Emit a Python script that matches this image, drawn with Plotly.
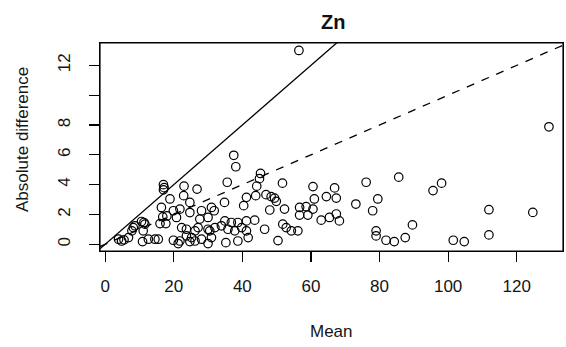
import plotly.graph_objects as go

title = "Zn"
x_label = "Mean"
y_label = "Absolute difference"

mean_vals = [
    3.9, 4.8, 6.8, 5.5, 8.2, 7.8, 8.7, 10.6, 11.3, 11.1, 10.9, 11.6, 14.5, 15.5, 12.6,
    16.0, 17.7, 16.8, 16.4, 18.0, 17.0, 17.2, 17.0, 18.9, 19.9, 21.8, 20.8, 19.9, 21.8, 24.7, 21.3,
    37.5, 38.1, 35.6, 26.8, 23.0, 22.9, 24.7, 34.8, 41.2, 44.2, 43.9, 40.4,
    24.7, 28.1, 31.0, 31.8, 30.0, 27.6, 34.9, 36.8, 38.7, 41.2, 43.6,
    22.3, 23.7, 26.2, 27.1, 30.0, 30.5, 32.0, 33.9, 35.8, 37.8, 39.8, 41.2, 41.7,
    23.7, 25.2, 26.2, 28.1, 31.0, 30.0, 35.2, 38.7,
    45.3, 45.0, 51.7, 60.6, 66.9, 64.5, 67.4, 61.0, 46.9, 48.4, 49.4, 49.9,
    48.0, 52.3, 56.7, 58.6, 60.6, 56.7, 59.1, 63.0, 65.4, 67.4, 68.3,
    46.5, 51.8, 52.8, 54.3, 56.2, 50.4,
    56.5, 76.1, 79.5, 73.1, 78.0, 85.6, 79.0, 79.0, 81.9, 84.3,
    129.4, 95.6, 98.1, 111.9, 124.7, 89.6, 87.5, 101.5, 104.7, 111.9,
]
abs_diff = [
    0.34, 0.22, 0.45, 0.30, 1.12, 0.90, 1.24, 1.53, 1.46, 0.90, 0.18, 1.35, 0.34, 0.34, 0.34,
    1.39, 1.39, 1.84, 2.47, 1.90, 4.00, 3.80, 3.65, 3.04, 2.25, 2.36, 1.80, 0.27, 0.22, 0.18, 0.05,
    5.97, 5.20, 4.16, 3.70, 3.90, 3.26, 2.81, 2.81, 3.15, 3.90, 3.26, 2.59,
    2.13, 2.25, 2.47, 2.25, 1.80, 1.69, 1.57, 1.46, 1.46, 1.57, 1.62,
    1.12, 1.01, 0.90, 1.12, 1.01, 0.90, 1.12, 1.24, 1.01, 0.90, 1.12, 0.90, 0.45,
    0.56, 0.45, 0.22, 0.34, 0.45, 0.05, 0.11, 0.22,
    4.75, 4.40, 4.10, 3.87, 3.78, 3.20, 3.10, 3.04, 3.33, 3.20, 3.10, 2.88,
    2.30, 2.36, 2.47, 2.52, 2.36, 1.96, 1.96, 1.62, 1.80, 2.03, 1.57,
    1.01, 1.35, 1.12, 0.90, 0.90, 0.25,
    13.0, 4.16, 3.04, 2.70, 2.25, 4.50, 0.90, 0.56, 0.27, 0.18,
    7.88, 3.60, 4.10, 2.32, 2.14, 1.30, 0.45, 0.27, 0.18, 0.63,
]

solid_slope = 0.2
dashed_slope = 0.1

x_ticks = [0, 20, 40, 60, 80, 100, 120]
y_ticks = [0, 2, 4, 6, 8, 10, 12]
y_tick_text = ["0", "2", "4", "6", "8", "", "12"]

x_range = [-1.5, 133.5]
y_range = [-0.45, 13.5]

line_x = [x_range[0], x_range[1]]

fig = go.Figure()
fig.add_trace(go.Scatter(
    x=line_x, y=[solid_slope * v for v in line_x], mode="lines",
    line=dict(color="black", width=1.3), hoverinfo="skip", showlegend=False))
fig.add_trace(go.Scatter(
    x=line_x, y=[dashed_slope * v for v in line_x], mode="lines",
    line=dict(color="black", width=1.3, dash="8px,8px"), hoverinfo="skip", showlegend=False))
fig.add_trace(go.Scatter(
    x=mean_vals, y=abs_diff, mode="markers",
    marker=dict(symbol="circle-open", size=8.5, color="black", line=dict(width=1.2)),
    showlegend=False))

L, R, T, B = 100, 3, 43, 96
W, H = 566, 347
pw = W - L - R
ph = H - T - B

family = "Liberation Sans, Arial, Helvetica, sans-serif"
font = dict(family=family, color="#151515", size=17)

fig.add_shape(type="rect", xref="paper", yref="paper", x0=0, y0=0, x1=1, y1=1,
              line=dict(color="black", width=1.2), layer="above")

fig.update_layout(
    width=W, height=H,
    margin=dict(l=L, r=R, t=T, b=B),
    paper_bgcolor="white", plot_bgcolor="white",
    font=font,
    xaxis=dict(range=x_range, tickvals=x_ticks, showgrid=False, zeroline=False,
               showline=True, linecolor="black", linewidth=1, mirror=True,
               ticks="outside", ticklen=10, tickcolor="black", tickwidth=1.2,
               ticklabelstandoff=10, tickfont=font, automargin=False),
    yaxis=dict(range=y_range, tickvals=y_ticks, ticktext=y_tick_text, showgrid=False, zeroline=False,
               showline=True, linecolor="black", linewidth=1, mirror=True,
               ticks="outside", ticklen=10, tickcolor="black", tickwidth=1.2,
               tickangle=-90, ticklabelstandoff=12, tickfont=font, automargin=False),
    annotations=[
        dict(text="<b>" + title + "</b>", xref="paper", yref="paper",
             x=(333 - L) / pw, y=(H - 22 - B) / ph, xanchor="center", yanchor="middle",
             showarrow=False, font=dict(family=family, size=20, color="#111")),
        dict(text=x_label, xref="paper", yref="paper",
             x=0.5, y=(H - 331 - B) / ph, xanchor="center", yanchor="middle",
             showarrow=False, font=font),
        dict(text=y_label, xref="paper", yref="paper",
             x=(22 - L) / pw, y=(H - 140 - B) / ph, xanchor="center", yanchor="middle",
             textangle=-90, showarrow=False, font=font),
    ],
)

fig.write_html(
    "out.html",
    config={"displayModeBar": False, "staticPlot": True},
    post_script="document.body.style.margin='0';document.body.style.overflow='hidden';",
)
